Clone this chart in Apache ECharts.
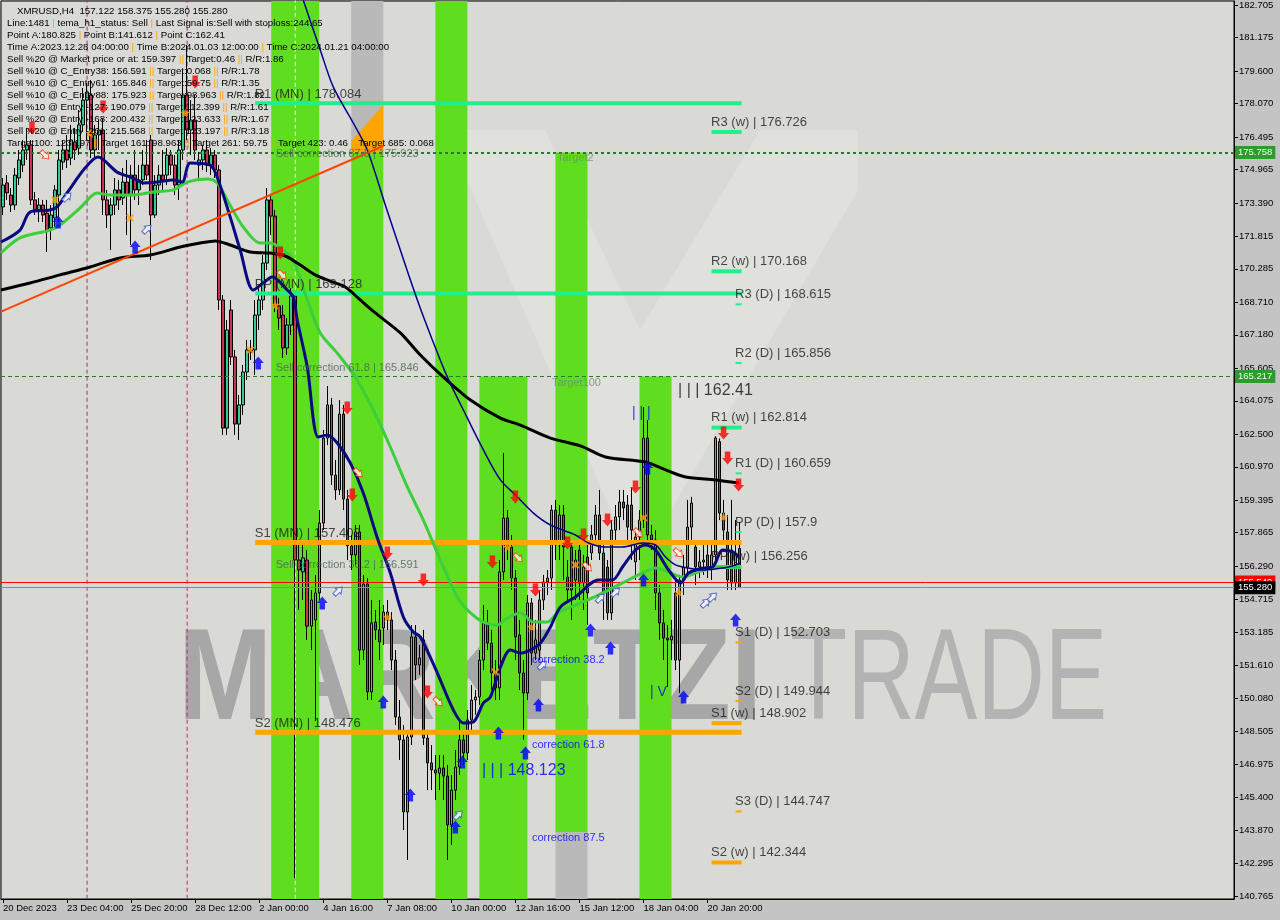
<!DOCTYPE html>
<html><head><meta charset="utf-8">
<script src="https://cdn.jsdelivr.net/npm/echarts@6/dist/echarts.min.js"></script>
<style>html,body{margin:0;padding:0;background:#c4c4c4;}#c{width:1280px;height:920px;}</style>
</head><body><div id="c"></div>
<script>
// ---------------- DATA ----------------
const opens = [
173.20,174.33,173.76,173.29,174.56,175.17,175.88,176.12,173.53,173.06,
173.29,172.91,172.21,172.68,173.76,175.31,175.88,175.50,176.26,175.97,
177.06,178.23,178.47,175.88,176.59,176.82,173.53,172.82,173.29,174.00,
173.62,174.37,173.76,174.70,174.00,174.47,175.17,176.35,172.82,174.23,
174.70,174.70,175.64,175.17,174.23,175.88,178.47,176.82,177.29,175.17,
175.41,175.88,175.17,175.64,174.94,168.82,162.79,168.35,166.14,162.98,
163.88,165.43,166.47,166.47,168.11,168.82,170.56,173.53,172.77,168.54,
168.11,166.56,167.64,169.01,156.58,156.02,156.58,153.47,153.76,155.03,
158.32,162.32,163.88,160.58,159.88,163.45,159.45,157.24,156.82,157.90,
152.34,155.45,150.37,153.66,153.29,153.38,154.13,153.76,151.87,149.19,
148.11,144.72,148.25,152.96,151.64,152.82,148.20,147.03,146.70,146.55,
146.79,146.41,144.11,145.75,146.84,148.11,147.50,149.05,149.99,150.13,
151.87,153.62,152.67,151.26,150.56,156.02,158.56,157.19,155.73,153.05,
151.26,150.32,154.56,152.20,152.34,154.70,155.55,155.73,158.93,157.29,
158.70,155.78,157.19,155.64,157.05,155.50,156.72,156.91,157.76,158.70,
156.91,156.25,154.09,157.99,158.61,159.31,159.17,159.17,156.49,157.66,
158.46,162.32,157.76,157.52,155.03,153.62,152.91,152.82,155.03,151.87,
155.64,156.25,158.13,157.19,156.25,156.49,156.82,156.25,156.82,162.15,
158.79,157.90,157.05,155.50,157.122];
const closes = [
174.23,173.86,173.29,174.70,175.41,175.88,176.12,173.53,173.06,173.29,
172.82,172.11,172.82,174.00,175.41,175.88,175.41,176.35,175.88,177.06,
178.23,178.61,175.88,176.59,176.82,173.53,172.82,173.29,174.00,173.53,
174.37,173.76,174.70,174.00,174.47,175.17,174.70,172.82,174.23,174.70,
174.47,175.64,175.17,174.23,175.88,178.47,176.82,177.29,175.88,175.41,
175.88,175.17,175.64,174.94,168.82,162.79,167.41,166.14,162.98,163.88,
165.43,166.47,166.37,168.11,168.82,170.56,173.53,172.77,168.54,167.97,
166.56,167.64,169.01,156.58,156.11,156.68,153.47,154.70,155.03,158.32,
162.32,163.88,160.58,159.88,163.45,159.45,157.24,156.82,157.90,152.34,
155.45,150.37,153.62,153.29,152.72,154.13,153.76,151.87,149.19,148.11,
144.72,148.25,152.96,151.64,151.97,148.20,147.03,146.70,146.55,146.79,
146.41,144.11,145.75,146.84,148.11,147.50,149.05,149.99,150.13,151.87,
153.62,152.67,151.26,150.56,156.02,158.56,157.19,155.73,152.96,151.26,
150.32,154.56,152.20,152.82,154.70,155.55,155.73,158.93,157.29,158.70,
157.19,155.17,155.17,156.58,155.50,156.25,155.03,157.76,158.70,156.91,
155.03,154.09,157.99,158.61,159.31,159.03,158.13,157.99,157.66,158.46,
162.32,157.76,157.52,155.03,153.62,152.91,152.82,153.00,151.87,155.64,
156.25,158.13,159.26,156.25,156.49,156.58,156.25,156.82,162.32,158.79,
157.99,155.64,155.50,156.91,155.280];
const lows = [
172.82,173.53,172.96,173.06,174.23,174.84,175.41,173.29,172.82,172.49,
172.49,171.08,171.64,172.21,172.49,174.94,175.03,175.17,175.41,175.64,
176.73,176.35,175.50,175.41,175.88,172.82,172.21,171.17,172.82,173.06,
173.29,171.88,171.41,173.53,173.29,174.23,174.47,170.70,172.68,173.76,
173.90,174.23,174.70,173.76,173.53,175.41,176.35,175.64,175.41,174.56,
174.94,174.84,174.70,174.56,168.35,162.47,162.47,165.76,162.47,162.23,
163.41,165.05,166.00,165.29,167.41,168.35,170.23,171.88,168.25,167.41,
166.09,166.23,167.17,141.612,154.23,154.70,152.82,152.34,149.00,154.70,
157.99,161.99,160.11,159.41,159.64,158.93,156.58,156.11,156.35,151.64,
151.87,149.99,149.99,152.82,151.87,152.58,153.29,151.40,148.81,147.17,
143.87,142.46,147.87,150.93,151.17,147.87,145.75,145.75,145.28,145.75,
145.28,142.46,143.17,145.28,146.46,146.93,147.17,148.58,149.29,149.76,
151.40,152.34,150.46,149.99,149.99,155.64,156.58,155.17,151.87,150.46,
148.123,149.99,151.64,151.87,151.87,154.23,154.93,155.17,156.58,156.58,
155.64,154.70,153.76,154.70,154.70,154.23,153.52,156.58,157.29,156.58,
153.76,153.76,153.76,157.29,157.99,158.46,157.52,156.58,155.64,156.58,
158.09,157.29,157.05,154.23,152.82,151.87,150.60,151.87,151.40,150.32,
154.93,155.88,157.52,155.40,155.73,155.88,155.73,155.64,156.35,158.46,
157.52,155.17,155.17,155.17,155.280];
const highs = [
174.56,174.70,174.09,175.03,175.88,176.35,176.92,176.35,173.90,173.62,
173.53,173.53,173.29,174.23,175.88,176.35,176.59,177.06,176.92,177.76,
178.80,179.03,179.17,177.06,177.29,177.39,174.00,173.62,174.56,174.47,
175.03,175.41,175.17,175.88,175.17,175.88,176.35,176.59,174.70,175.17,
175.88,175.97,175.88,175.64,176.35,179.64,180.825,178.23,178.47,175.79,
176.12,176.35,175.97,175.88,175.17,169.05,167.88,168.82,166.47,164.35,
165.76,166.94,166.94,168.82,169.53,170.94,174.09,173.76,173.06,168.91,
168.58,167.97,169.38,169.20,157.52,157.29,157.05,155.17,155.88,158.93,
162.70,164.77,164.21,161.29,164.11,163.88,159.88,157.76,158.23,158.23,
155.88,155.73,154.70,154.23,154.70,154.46,154.70,154.13,152.34,149.99,
148.81,148.58,153.52,153.52,152.58,153.29,148.58,147.87,147.40,147.40,
147.40,146.93,146.46,147.64,149.05,148.58,149.52,150.70,150.46,152.34,
154.46,154.23,153.29,151.87,156.58,161.62,158.93,157.76,156.11,153.76,
151.87,154.93,154.79,153.76,155.17,155.88,156.11,159.17,159.41,159.17,
159.17,156.58,157.52,157.05,157.52,156.82,157.29,158.23,159.17,159.88,
157.29,156.58,158.46,159.17,159.88,159.88,159.64,159.97,157.99,158.93,
163.78,163.17,158.23,157.99,155.40,154.23,153.52,153.76,155.64,155.88,
156.82,159.41,159.55,157.52,157.05,157.29,157.29,157.52,162.41,162.30,
159.41,158.70,159.41,158.46,158.375];

// tick labels
const priceTicks = [182.705,181.175,179.600,178.070,176.495,174.965,173.390,171.815,170.285,168.710,167.180,165.605,164.075,162.500,160.970,159.395,157.865,156.290,154.715,153.185,151.610,150.080,148.505,146.975,145.400,143.870,142.295,140.765];
const timeTickBars = [0,16,32,48,64,80,96,112,128,144,160,176];
const timeTickLabels = ['20 Dec 2023','23 Dec 04:00','25 Dec 20:00','28 Dec 12:00','2 Jan 00:00','4 Jan 16:00','7 Jan 08:00','10 Jan 00:00','12 Jan 16:00','15 Jan 12:00','18 Jan 04:00','20 Jan 20:00'];

// indicator lines [bar, price]
const maSlowBlack = [[-0.5,169.29],[6.75,169.62],[14.25,170.00],[21.75,170.37],[29.25,170.80],[36.75,170.94],[44.25,171.31],[49.25,171.50],[53,171.60],[56.75,171.41],[61.75,171.08],[66.75,171.03],[70.5,170.89],[74.25,170.47],[78,170.00],[81.75,169.71],[85.5,169.43],[89.25,168.82],[93,168.21],[99.25,167.27],[104.25,166.23],[110,165.19],[116.75,164.11],[124.25,163.26],[129.25,162.93],[136.75,162.32],[144.25,161.95],[150.5,161.43],[160.5,161.19],[165.5,160.82],[170.5,160.49],[178,160.35],[183.75,160.21]];
const maFastNavy = [[-0.5,171.55],[4.25,172.11],[6.75,172.96],[11.75,173.06],[13.5,173.20],[16,173.86],[20.5,175.03],[23.75,175.55],[28.5,174.84],[32.5,174.56],[35,174.33],[38.5,174.37],[42.5,174.47],[44.75,174.37],[46.75,175.27],[51.75,175.17],[53.75,174.47],[56.75,172.73],[59.25,171.17],[62.5,169.29],[65,169.62],[67.25,169.90],[71,169.29],[72.5,168.96],[73.5,167.88],[76,165.67],[78.75,162.37],[81,162.47],[83.5,162.09],[86.75,161.15],[90,159.73],[93.5,157.62],[96.75,155.97],[100,153.90],[102.5,153.19],[104.25,152.96],[108.5,151.26],[112.5,149.52],[115,148.91],[117.5,148.96],[120,149.85],[121.75,150.13],[124.25,151.54],[126.75,152.34],[129.25,152.20],[131.75,152.34],[134.25,152.67],[136.75,153.43],[139.25,154.37],[143,154.84],[148.75,155.64],[152.25,155.64],[154.75,156.25],[158,157.05],[160.5,157.29],[163,157.05],[166.25,156.11],[169.25,155.50],[171.25,155.97],[174.75,156.20],[177.25,156.25],[179.75,157.05],[182.25,156.96],[183.75,156.72]];
const maMidGreen = [[-0.5,171.03],[4.25,171.74],[11.75,172.11],[14.25,172.35],[19.25,173.15],[23.5,173.86],[26.75,173.76],[32.5,173.76],[37.5,173.90],[42.5,174.00],[46,174.37],[51,174.51],[53.5,174.33],[56,173.53],[60,172.26],[64.25,171.50],[66.75,171.50],[70,171.17],[72.5,170.70],[76,168.82],[79.25,167.27],[83.5,166.32],[88.5,165.05],[92.5,163.64],[96.75,161.90],[101,160.02],[105,158.46],[109.25,156.58],[113.5,154.84],[116.75,154.09],[120,153.66],[123.5,153.52],[126,153.85],[129.25,154.09],[132.5,153.66],[136,153.66],[138.5,154.09],[143,154.46],[148.75,154.93],[154.75,155.50],[159.75,155.97],[163,156.20],[166.25,156.02],[169.75,155.78],[173.75,156.02],[177.25,156.20],[180.5,156.25],[184.25,156.25]];
const maThinNavy = [[73,184.12],[75,182.94],[79.25,180.59],[82.5,178.85],[87.5,177.15],[91,175.88],[95.5,173.29],[99.25,171.17],[103.5,168.82],[107.25,166.94],[111,165.19],[115,163.64],[120,161.76],[124.25,160.35],[128.5,159.55],[132.5,158.79],[136.75,158.23],[143,157.76],[146.25,157.38],[150.5,157.19],[154.75,157.19],[159.75,157.38],[163,157.29],[165.5,156.72],[168,156.35],[171.25,156.20],[174.75,156.11],[178,156.16],[181.25,156.25],[184.25,156.44]];
const trendLine = [[-0.5,168.27],[95,176.07]];

// time zone bands (bar from, bar to, price top, price bottom, kind 0 green / 1 gray)
const bandFrom = [67, 87, 87, 108, 119, 138, 138, 159];
const bandTo = [79, 95, 95, 116, 131, 146, 146, 167];
const bandTop = [183, 183, 175.758, 183, 165.217, 175.758, 143.78, 165.217];
const bandBottom = [140.5, 175.758, 140.5, 140.5, 140.5, 143.78, 140.5, 140.5];
const bandKind = [0, 1, 0, 0, 0, 0, 1, 0];
const wedge = [87, 176.30, 95, 178.00, 95, 175.76, 87, 175.76];

// pivot levels
const mnNames = ['R1 (MN)', 'PP (MN)', 'S1 (MN)', 'S2 (MN)'];
const mnValues = [178.084, 169.128, 157.402, 148.476];
const pivotNames = ['R3 (w)','R2 (w)','R3 (D)','R2 (D)','R1 (w)','R1 (D)','PP (D)','PP (w)','S1 (D)','S2 (D)','S1 (w)','S3 (D)','S2 (w)'];
const pivotValues = [176.726,170.168,168.615,165.856,162.814,160.659,157.9,156.256,152.703,149.944,148.902,144.747,142.344];

// reference lines
const corrLevels = [175.758, 165.217];
const bidPrice = 155.549;
const lastPrice = 155.280;
const timeMarkBars = [21, 46, 73];

// signals [bar, price]
const redDownPts = [[7.25,176.92],[25,177.90],[48,179.08],[69.25,171.03],[86,163.74],[87.25,159.64],[96,156.91],[105,155.64],[106,150.37],[122.25,156.49],[128,159.55],[133,155.17],[141,157.38],[145,157.76],[151,158.46],[158,160.02],[180,162.56],[181,161.38],[183.75,160.11]];
const blueUpPts = [[13.75,172.49],[33,171.31],[63.75,165.85],[79.75,154.56],[95,149.90],[101.75,145.52],[113,144.01],[114.75,147.07],[123.75,148.44],[130.5,147.50],[133.75,149.76],[146.75,153.29],[151.75,152.44],[160,155.64],[161,160.91],[170,150.13],[183,153.76]];
const blueHollowPts = [[16,173.67],[36,172.16],[83.75,155.12],[113.75,144.58],[134.75,151.64],[149.25,154.79],[153,155.07],[175.5,154.56],[177.25,154.84]];
const redHollowPts = [[10.5,175.64],[69.75,170.00],[88.75,160.68],[108.75,149.90],[128.75,156.68],[146,156.25],[158.75,157.85],[168.75,156.91]];
const starPts = [[68,168.58],[96,153.90],[132,153.43],[126,157.19],[180,158.61],[168.75,155.07],[45.5,177.62],[21.75,176.68]];
const crossPts = [[13,173.53],[31.75,172.68],[61.75,166.47],[123,151.31],[143,156.35],[160,158.56]];

// chart texts
const noteTexts = ['Sell correction 87.5 | 175.923','Sell correction 61.8 | 165.846','Sell correction 38.2 | 156.591','correction 38.2','correction 61.8','correction 87.5','| | | 162.41','| | | 148.123','| | |','| V','Target100','Target2'];
const noteBars = [68.25,68.25,68.25,132.25,132.25,132.25,168.75,119.75,157.25,161.75,137.25,138.5];
const notePrices = [175.923,165.846,156.591,151.83,147.83,143.45,164.54,146.65,163.45,150.32,164.91,175.46];
const noteKinds = ['sell','sell','sell','corr','corr','corr','big','bigBlue','wave','wave','target','target'];

const infoLines = [
 'XMRUSD,H4  157.122 158.375 155.280 155.280',
 'Line:1481 {o||} tema_h1_status: Sell {o||} Last Signal is:Sell with stoploss:244.65',
 'Point A:180.825 {o||} Point B:141.612 {o||} Point C:162.41',
 'Time A:2023.12.28 04:00:00 {o||} Time B:2024.01.03 12:00:00 {o||} Time C:2024.01.21 04:00:00',
 'Sell %20 @ Market price or at: 159.397 {o|||} Target:0.46 {o|||} R/R:1.86',
 'Sell %10 @ C_Entry38: 156.591 {o|||} Target:0.068 {o|||} R/R:1.78',
 'Sell %10 @ C_Entry61: 165.846 {o|||} Target:59.75 {o|||} R/R:1.35',
 'Sell %10 @ C_Entry88: 175.923 {o|||} Target:98.963 {o|||} R/R:1.82',
 'Sell %10 @ Entry -127: 190.079 {o|||} Target:112.399 {o|||} R/R:1.61',
 'Sell %20 @ Entry -168: 200.432 {o|||} Target:123.633 {o|||} R/R:1.67',
 'Sell %20 @ Entry -261: 215.568 {o|||} Target:123.197 {o|||} R/R:3.18',
 'Target100: 123.197 {o|||} Target 161: 98.963 {o|||} Target 261: 59.75 {o|||} Target 423: 0.46 {o|||} Target 685: 0.068'
];

// ---------------- CHART ----------------
const FONT = "'Liberation Sans', Arial, Helvetica, sans-serif";
const SLOT_COUNT = 308;
const Y_MIN = 140.624, Y_MAX = 182.893;
const BAND_COLORS = ['#5ede1e', '#b9b9b9'];
const SEG_STYLES = [
  {stroke:'#1ef08c', lineWidth:4}, {stroke:'#ffa500', lineWidth:5},
  {stroke:'#1ef08c', lineWidth:4}, {stroke:'#ffa500', lineWidth:4},
  {stroke:'#1ef08c', lineWidth:2}, {stroke:'#ffa500', lineWidth:2}
];

const slotNames = Array.from({length: SLOT_COUNT}, (_, i) => String(i));
const candleData = opens.map((o, i) => [o, closes[i], lows[i], highs[i]]);
const bandData = bandFrom.map((f, i) => [f, bandTo[i], bandTop[i], bandBottom[i], bandKind[i]]);

const segData = [];
const levelLabels = [];
mnValues.forEach((v, i) => {
  const kind = v > 160 ? 0 : 1;
  segData.push([63, 184.5, v, kind]);
  levelLabels.push({value:[63, v], label:{show:true, formatter: mnNames[i] + ' | ' + v, position:[0,0], align:'left', verticalAlign:'bottom', offset:[0,-2], fontSize:13, color:'#1a1a1a', fontFamily:FONT}});
});
pivotValues.forEach((v, i) => {
  const weekly = pivotNames[i].indexOf('(w)') >= 0;
  const up = pivotNames[i][0] !== 'S';
  const start = weekly ? 177 : 183;
  segData.push([start, 184.5, v, (weekly ? 2 : 4) + (up ? 0 : 1)]);
  levelLabels.push({value:[start, v], label:{show:true, formatter: pivotNames[i] + ' | ' + v, position:[0,0], align:'left', verticalAlign:'bottom', offset:[0,-3], fontSize:13, color:'#1a1a1a', fontFamily:FONT}});
});

const NOTE_STYLES = {
  sell:   {fontSize:11, color:'#4a644e', verticalAlign:'top', offset:[0,0]},
  corr:   {fontSize:11, color:'#0000ff', verticalAlign:'middle', offset:[0,0]},
  big:    {fontSize:16, color:'#111111', verticalAlign:'middle', offset:[0,0]},
  bigBlue:{fontSize:16, color:'#0000ff', verticalAlign:'middle', offset:[0,0]},
  wave:   {fontSize:14, color:'#0000ff', verticalAlign:'middle', offset:[0,0]},
  target: {fontSize:11, color:'#6f8f6f', verticalAlign:'middle', offset:[0,0]}
};
const noteData = noteTexts.map((t, i) => {
  const s = NOTE_STYLES[noteKinds[i]];
  return {value:[noteBars[i], notePrices[i]], label:{show:true, formatter:t, position:[0,0], align:'left', verticalAlign:s.verticalAlign, offset:s.offset, fontSize:s.fontSize, color:s.color, fontFamily:FONT}};
});

const ARROW_DOWN = 'path://M3,0 L9,0 L9,7 L12,7 L6,14 L0,7 L3,7 Z';
const ARROW_UP = 'path://M6,0 L12,7 L9,7 L9,14 L3,14 L3,7 L0,7 Z';
const STAR = 'path://M5,0 L6.2,3.6 L10,3.6 L7,5.9 L8.1,9.5 L5,7.3 L1.9,9.5 L3,5.9 L0,3.6 L3.8,3.6 Z';
const CROSS = 'path://M0,2 L2,0 L5,3 L8,0 L10,2 L7,5 L10,8 L8,10 L5,7 L2,10 L0,8 L3,5 Z';

function markers(points, symbol, size, fill, border, rotate, z) {
  return {type:'scatter', xAxisIndex:1, yAxisIndex:0, data:points, symbol:symbol, symbolSize:size, symbolRotate:rotate || 0,
    itemStyle:{color:fill, borderColor:border || fill, borderWidth:border ? 1 : 0}, z:z, silent:true};
}
function ma(points, color, width, z, smooth) {
  return {type:'line', xAxisIndex:1, yAxisIndex:0, data:points, showSymbol:false, symbol:'none', smooth:smooth, clip:true,
    lineStyle:{color:color, width:width}, z:z, silent:true};
}

const verticalSeries = timeMarkBars.map((b, i) => ({
  type:'line', xAxisIndex:1, yAxisIndex:0, data:[[b, 183], [b, 140.5]], showSymbol:false, symbol:'none', clip:true, silent:true, z:2.5,
  lineStyle:{color: i === 2 ? '#f2f2f2' : '#b02d7c', width:1, type:[4,3]}
}));

function priceLine(value, color, type, width, boxColor, textColor) {
  return {yAxis:value, lineStyle:{color:color, type:type, width:width},
    label:{show:true, position:'end', formatter: value.toFixed(3), distance:1, backgroundColor:boxColor, color:textColor,
      padding:[2,3,1,3], fontSize:9.5, fontFamily:FONT}};
}

const chart = echarts.init(document.getElementById('c'), null, {renderer:'canvas'});
chart.setOption({
  animation:false,
  backgroundColor:'#c4c4c4',
  grid:{left:1, top:1, width:1233, height:898, show:true, backgroundColor:'#d9d9d5', borderColor:'#000', borderWidth:1},
  xAxis:[
    {type:'category', data:slotNames, boundaryGap:true, gridIndex:0,
     axisLine:{show:true, onZero:false, lineStyle:{color:'#000'}},
     axisTick:{show:true, alignWithLabel:true, length:4, interval:(idx) => timeTickBars.indexOf(idx) >= 0, lineStyle:{color:'#000'}},
     axisLabel:{show:true, interval:(idx) => timeTickBars.indexOf(idx) >= 0, formatter:(val, idx) => { const k = timeTickBars.indexOf(Number(val)); return k >= 0 ? timeTickLabels[k] : ''; },
       align:'left', margin:4, fontSize:9.5, color:'#000', fontFamily:FONT},
     splitLine:{show:false}},
    {type:'value', min:-0.5, max:SLOT_COUNT - 0.5, show:false, gridIndex:0, axisLine:{onZero:false}}
  ],
  yAxis:[{type:'value', position:'right', min:Y_MIN, max:Y_MAX, gridIndex:0,
    axisLine:{show:true, onZero:false, lineStyle:{color:'#000'}},
    axisTick:{show:true, length:4, customValues:priceTicks, lineStyle:{color:'#000'}},
    axisLabel:{show:true, customValues:priceTicks, formatter:(v) => Number(v).toFixed(3), margin:5, fontSize:9.5, color:'#000', fontFamily:FONT},
    splitLine:{show:false}}],
  graphic:[
    {type:'polygon', z:1, silent:true, shape:{points:[[445,130],[545,130],[640,330],[760,130],[858,130],[858,190],[665,520],[615,520]]}, style:{fill:'rgba(255,255,255,0.18)'}},
    {type:'text', x:178, y:683, z:1, scaleX:0.87, silent:true, style:{text:'MARKETZI', font:'bold 130px ' + FONT, fill:'#a7a7a7', verticalAlign:'middle'}},
    {type:'text', x:790, y:683, z:1, scaleX:0.72, silent:true, style:{text:'TRADE', font:'130px ' + FONT, fill:'#b3b3b3', verticalAlign:'middle'}}
  ].concat(infoLines.map((t, i) => ({type:'text', x: i === 0 ? 17 : 7, y: 11 + 12 * i, z:20, silent:true,
    style:{text:t, font:'9.7px ' + FONT, fill:'#000', verticalAlign:'middle', rich:{o:{fill:'#ffa500', font:'9.7px ' + FONT}}}}))),
  series:[
    {type:'custom', name:'bands', xAxisIndex:1, yAxisIndex:0, data:bandData, clip:true, silent:true, z:2,
     encode:{x:[0,1], y:[2,3]},
     renderItem:(params, api) => {
       const a = api.coord([api.value(0), api.value(2)]);
       const b = api.coord([api.value(1), api.value(3)]);
       return {type:'rect', shape:{x:a[0], y:a[1], width:b[0] - a[0], height:b[1] - a[1]}, style:{fill:BAND_COLORS[api.value(4)]}};
     }},
    {type:'custom', name:'wedge', xAxisIndex:1, yAxisIndex:0, data:[wedge], clip:true, silent:true, z:2.2,
     encode:{x:[0,2,4,6], y:[1,3,5,7]},
     renderItem:(params, api) => {
       const pts = [];
       for (let k = 0; k < 8; k += 2) pts.push(api.coord([api.value(k), api.value(k + 1)]));
       return {type:'polygon', shape:{points:pts}, style:{fill:'#ffa500'}};
     }},
    ...verticalSeries,
    {type:'candlestick', name:'XMRUSD', xAxisIndex:0, yAxisIndex:0, data:candleData, barWidth:3, z:3, silent:true,
     itemStyle:{color:'#3cc88c', color0:'#c8364e', borderColor:'#000', borderColor0:'#000', borderWidth:1},
     markLine:{silent:true, symbol:['none','none'], animation:false, precision:3,
       data:[
         priceLine(corrLevels[0], '#2a7a2a', [3,3], 2, '#2f9a2f', '#e8ffe8'),
         priceLine(corrLevels[1], '#2a7a2a', [4,3], 1, '#2f9a2f', '#e8ffe8'),
         priceLine(bidPrice, '#ff0000', 'solid', 1, '#ff0000', '#ffffff'),
         priceLine(lastPrice, '#7890a4', 'solid', 1, '#000000', '#ffffff')
       ]}},
    {type:'custom', name:'levels', xAxisIndex:1, yAxisIndex:0, data:segData, clip:true, silent:true, z:4,
     encode:{x:[0,1], y:2},
     renderItem:(params, api) => {
       const a = api.coord([api.value(0), api.value(2)]);
       const b = api.coord([api.value(1), api.value(2)]);
       return {type:'line', shape:{x1:a[0], y1:a[1], x2:b[0], y2:b[1]}, style:SEG_STYLES[api.value(3)]};
     }},
    ma(maMidGreen, '#3ccf3c', 3, 5, 0.3),
    ma(maSlowBlack, '#000000', 3, 5.1, 0.3),
    ma(maFastNavy, '#0a0a80', 3, 5.2, 0.3),
    ma(maThinNavy, '#00008b', 1.5, 5.3, 0.3),
    ma(trendLine, '#ff4500', 2, 5.4, false),
    markers(redDownPts, ARROW_DOWN, [11,13], '#ff0000', null, 0, 6),
    markers(blueUpPts, ARROW_UP, [11,13], '#0000ff', null, 0, 6),
    markers(blueHollowPts, ARROW_UP, [8,11], '#f4f4ff', '#3050c0', -45, 6),
    markers(redHollowPts, ARROW_DOWN, [8,11], '#fff4f0', '#ff3000', 45, 6),
    markers(starPts, STAR, 10, '#ffa500', null, 0, 6),
    markers(crossPts, CROSS, 8, '#ffa500', null, 0, 6),
    {type:'scatter', name:'levelLabels', xAxisIndex:1, yAxisIndex:0, data:levelLabels, symbolSize:1, itemStyle:{color:'rgba(0,0,0,0)'}, z:7, silent:true},
    {type:'scatter', name:'notes', xAxisIndex:1, yAxisIndex:0, data:noteData, symbolSize:1, itemStyle:{color:'rgba(0,0,0,0)'}, z:7, silent:true}
  ]
});
</script>
</body></html>
